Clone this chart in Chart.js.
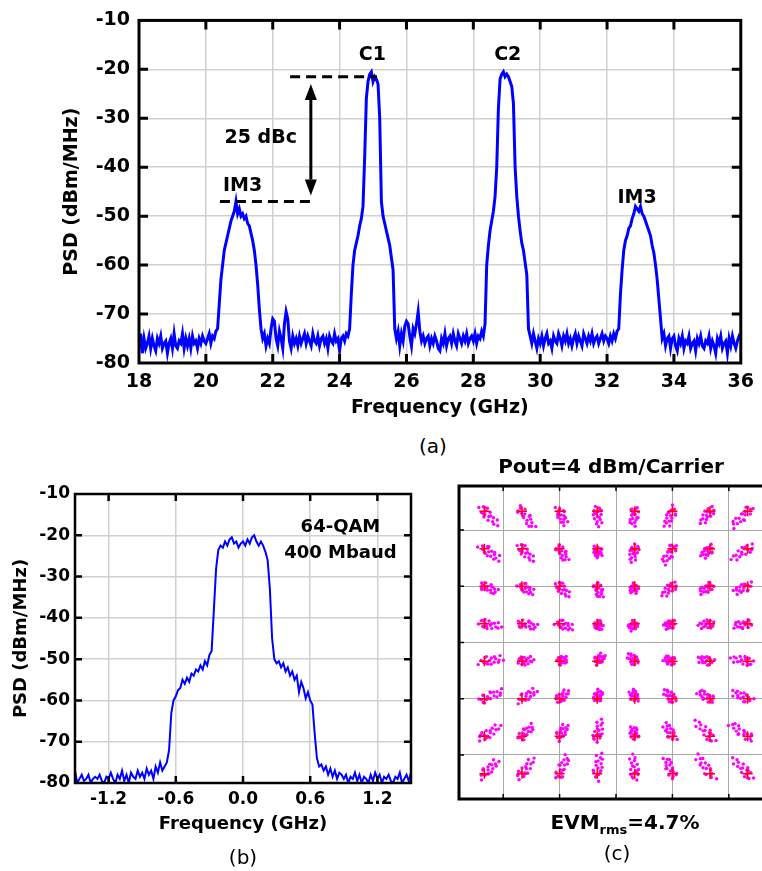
<!DOCTYPE html>
<html>
<head>
<meta charset="utf-8">
<script src="https://cdn.jsdelivr.net/npm/chart.js@4.4.1/dist/chart.umd.min.js"></script>
<style>
  html, body { margin: 0; padding: 0; background: #fff; overflow: hidden; }
  body { width: 762px; height: 871px; position: relative; font-family: 'DejaVu Sans', sans-serif; color: #000; }
  canvas { position: absolute; }
  .cap { position: absolute; font-size: 20px; transform: translate(-50%, -50%); white-space: nowrap; }
  .bold { font-weight: bold; }
  .bold sub { font-size: 13px; }
</style>
</head>
<body>
<canvas id="psdWide" width="762" height="430" style="left:0;top:0"></canvas>
<canvas id="psdChannel" width="440" height="401" style="left:0;top:470px"></canvas>
<canvas id="constellation" width="340" height="401" style="left:440px;top:470px"></canvas>
<div class="cap" style="left:433px;top:446px">(a)</div>
<div class="cap" style="left:243px;top:857px">(b)</div>
<div class="cap" style="left:617px;top:853px">(c)</div>
<div class="cap bold" style="left:611px;top:466px">Pout=4 dBm/Carrier</div>
<div class="cap bold" style="left:625px;top:823px">EVM<sub>rms</sub>=4.7%</div>
<script>
// two-tone PSD, 18-36 GHz, one value every 0.05 GHz
const wideFreqStart = 18;
const wideFreqStep = 0.05;
const widePsd = [
  -77,-74,-78,-75,-77,-76,-74.5,-77,-75,-76.5,-77.5,-75,-76,-74.5,-77,-76,-75.5,-78,-76,-75,
  -77,-74,-76.5,-77,-75.5,-76,-74,-77,-75,-76.5,-75,-77,-74.5,-76,-75.5,-77,-75,-76,-74.5,-75.5,
  -76,-75,-74,-76,-74.5,-75,-73.5,-73,-68,-63,-60,-57,-55.5,-54,-52.5,-51,-50,-49,-47,-49.5,
  -48.5,-50,-49.5,-50.5,-50,-51.5,-52,-53.5,-55,-57,-60,-64,-69,-73,-75,-74,-76.5,-75,-76,-73,
  -71,-71.5,-75,-76.5,-73.5,-75,-77,-72,-69.5,-71,-75.5,-77,-74.5,-76,-75,-76.5,-74.5,-76,-75,-74,
  -76,-74.5,-75.5,-76.5,-74,-75.5,-76,-74.5,-76.5,-75,-74.5,-76,-75,-77,-74.5,-75.5,-76,-74,-75.5,-75,
  -77.5,-75,-74.5,-75.5,-74,-74.5,-73,-66,-60,-57,-55.5,-54,-52,-50.5,-48,-38,-26,-22.5,-21,-20.5,
  -22.5,-21.5,-22,-23,-30,-47,-50,-51.5,-53,-54.5,-56,-58.5,-61,-73,-75,-73.5,-76.5,-74,-75.5,-72.5,
  -71.5,-72,-74.5,-76.5,-73,-74,-72,-69.5,-73.5,-75.5,-74.5,-76,-75,-74.5,-76.5,-75,-76,-74.5,-75.5,-77,
  -77.5,-75,-76,-74,-76.5,-75,-74.5,-76,-74,-75.5,-76.5,-74,-75,-76,-74.5,-75.5,-74,-76,-75,-74.5,
  -75.5,-74,-76,-74.5,-75,-73.5,-74.5,-72,-60,-56,-53,-51,-49,-46,-40,-28,-22,-21,-20.5,-21.5,
  -21,-21.5,-22.5,-23.5,-27,-40,-46,-50,-53,-55.5,-57,-59.5,-62,-73,-74.5,-76,-74,-75.5,-77,-75,
  -76,-74.5,-76.5,-75,-74,-76,-75.5,-77,-74.5,-75.5,-76,-74,-75,-76.5,-74.5,-75.5,-74,-76,-75,-76.5,
  -75,-74,-76,-74.5,-75.5,-76.5,-74,-75,-76,-74.5,-75.5,-74,-76,-75,-74.5,-76,-75,-74,-75.5,-74.5,
  -75,-76,-74.5,-75.5,-74,-75,-73.5,-73,-66,-61,-57,-55,-54,-52.5,-52,-50.5,-49.5,-48,-48.5,-49,
  -48,-49.5,-50,-51,-52,-53,-54,-56,-57.5,-60,-63,-67,-71,-75,-74,-76.5,-75,-74.5,-77,-75,
  -74.5,-76.5,-77.5,-75,-76,-74.5,-77,-75.5,-76,-74.5,-77,-76,-75.5,-77.5,-75,-76,-74.5,-76.5,-77,-75.5,
  -76,-74.5,-77,-75.5,-76.5,-78,-75,-76,-74.5,-77,-76,-75.5,-78,-75,-76.5,-74.5,-76,-77,-75.5,-74.5,
  -75
];
const wideTicksX = [18, 20, 22, 24, 26, 28, 30, 32, 34, 36];

// single 64-QAM channel, -1.5..1.5 GHz, one value every 0.02 GHz
const chanFreqStart = -1.5;
const chanFreqStep = 0.02;
const chanPsd = [
  -77,-80,-79,-78,-79.5,-79,-78,-80,-79,-78.5,
  -79,-78,-79.5,-80,-78.5,-79,-77.5,-79,-80,-78,
  -79,-77,-79.5,-78,-80,-77.5,-78.5,-79,-77,-78.5,
  -77.5,-79,-76.5,-78,-77,-79,-76,-77.5,-75,-77,
  -76,-75,-72,-63,-60,-59,-57.5,-57,-55,-56,
  -54.5,-55.5,-53.5,-54,-52.5,-53,-51.5,-52.5,-50.5,-51.5,
  -49,-48,-38,-28,-23.5,-22.5,-23,-21.5,-22.5,-21,
  -20.5,-22,-21.5,-23,-22,-21.5,-22.5,-21,-22,-20.5,
  -20,-21.5,-22.5,-21.5,-22.5,-24,-26,-33,-45,-50,
  -51,-50.5,-52,-51,-53,-52,-54,-53,-55,-54,
  -58,-55.5,-57,-59.5,-58,-60,-61,-68,-74,-76,
  -75.5,-77,-76,-78,-76.5,-78.5,-77,-79,-77.5,-78,
  -79,-78,-80,-78.5,-79,-77.5,-79.5,-78,-80,-78.5,
  -79,-80,-78,-79.5,-77.5,-79,-78,-80,-78.5,-79,
  -78,-79.5,-80,-78.5,-79,-77.5,-80,-79,-78,-79.5,
  -77.5
];
const chanTicksX = [-1.2, -0.6, 0, 0.6, 1.2];
const chanTickLabels = ['-1.2', '-0.6', '0.0', '0.6', '1.2'];
const psdTicksY = [-80, -70, -60, -50, -40, -30, -20, -10];

// 64-QAM constellation
const qamLevels = [-7, -5, -3, -1, 1, 3, 5, 7];
const qamGrid = [-6, -3, 0, 3, 6];
// length of each received cloud (symbol units), rows from Q=+7 down to Q=-7
const cloudLength = [
  [1.4, 1.45, 1.1, 1.1, 1.05, 1.25, 1.1, 1.55],
  [1.4, 1.2, 1.0, 0.65, 1.0, 1.25, 0.85, 1.4],
  [1.0, 1.0, 1.0, 0.85, 0.55, 1.0, 0.85, 1.1],
  [1.25, 1.1, 1.05, 0.5, 0.55, 0.65, 0.85, 1.0],
  [1.4, 0.85, 0.55, 0.7, 0.7, 0.65, 0.9, 1.25],
  [1.4, 1.25, 0.85, 0.65, 0.7, 0.85, 1.0, 1.25],
  [1.4, 1.1, 1.0, 1.25, 0.7, 1.1, 1.55, 1.55],
  [1.4, 1.4, 1.4, 1.55, 1.4, 1.25, 1.7, 1.55]
];
const cloudShape = ['ABCABCAB', 'CABCABCA', 'BCABCABC', 'ABCABCAB', 'CABCABCA', 'BCABCABC', 'ABCABCAB', 'CABCABCA'];
// received samples of a cloud: radial part (fraction of length) and tangential part (units)
const shapeRadial = {
  A: [0.25, 0.15, 0.05, -0.02, -0.1, -0.18, -0.26, -0.34, -0.42, -0.5, -0.58, -0.75, -0.14, 0.0, -0.3, -0.05, -0.6, 0.1],
  B: [0.2, 0.1, 0.0, -0.06, -0.14, -0.22, -0.3, -0.38, -0.46, -0.55, -0.65, -0.75, 0.06, -0.3, -0.18, -0.42, 0.12, -0.6],
  C: [0.25, 0.12, 0.02, -0.05, -0.12, -0.2, -0.28, -0.36, -0.44, -0.52, -0.62, -0.72, -0.1, -0.24, -0.4, -0.08, -0.56, 0.05]
};
const shapeTangent = {
  A: [0.06, -0.13, 0.16, -0.05, 0.1, -0.18, 0.03, 0.2, -0.1, 0.08, -0.16, 0.04, 0.23, -0.23, -0.06, 0.13, 0.13, -0.16],
  B: [-0.1, 0.16, -0.2, 0.08, -0.04, 0.13, -0.16, 0.06, 0.18, -0.08, 0.05, -0.13, 0.21, -0.22, 0.1, -0.13, -0.03, 0.16],
  C: [0.13, -0.06, 0.08, -0.2, 0.17, 0.0, -0.12, 0.13, -0.05, 0.16, -0.18, 0.09, -0.23, 0.21, -0.16, 0.14, 0.05, 0.0]
};

const wideData = widePsd.map((v, i) => ({ x: wideFreqStart + i * wideFreqStep, y: v }));
const chanData = chanPsd.map((v, i) => ({ x: chanFreqStart + i * chanFreqStep, y: v }));

const idealPts = [];
const rxPts = [];
qamLevels.slice().reverse().forEach((q, row) => {
  qamLevels.forEach((i, col) => {
    idealPts.push({ x: i, y: q });
    const len = Math.hypot(i, q), ux = i / len, uy = q / len;
    const s = cloudShape[row][col], L = cloudLength[row][col];
    shapeRadial[s].forEach((r, k) => {
      const t = shapeTangent[s][k];
      rxPts.push({ x: i + r * L * ux - t * uy, y: q + r * L * uy + t * ux });
    });
  });
});

// box round the plot area with inward tick marks
const framePlugin = {
  id: 'frame',
  afterDraw(chart, args, opts) {
    const { ctx, chartArea: a, scales: { x, y } } = chart;
    ctx.save();
    ctx.strokeStyle = '#000';
    ctx.lineWidth = opts.width;
    ctx.strokeRect(a.left, a.top, a.right - a.left, a.bottom - a.top);
    ctx.lineWidth = opts.tickWidth;
    ctx.beginPath();
    x.ticks.forEach(t => {
      const p = x.getPixelForValue(t.value);
      if (p <= a.left + 1 || p >= a.right - 1) return;
      ctx.moveTo(p, a.bottom); ctx.lineTo(p, a.bottom - opts.len);
      ctx.moveTo(p, a.top); ctx.lineTo(p, a.top + opts.len);
    });
    y.ticks.forEach(t => {
      const p = y.getPixelForValue(t.value);
      if (p <= a.top + 1 || p >= a.bottom - 1) return;
      ctx.moveTo(a.left, p); ctx.lineTo(a.left + opts.len, p);
      ctx.moveTo(a.right, p); ctx.lineTo(a.right - opts.len, p);
    });
    ctx.stroke();
    ctx.restore();
  }
};

// text labels, dashed reference lines and the dBc arrow
const markupPlugin = {
  id: 'markup',
  afterDatasetsDraw(chart, args, opts) {
    const { ctx, scales: { x, y } } = chart;
    ctx.save();
    ctx.fillStyle = '#000';
    ctx.strokeStyle = '#000';
    (opts.dashes || []).forEach(d => {
      ctx.setLineDash([10, 6]);
      ctx.lineWidth = 3;
      ctx.beginPath();
      ctx.moveTo(x.getPixelForValue(d.x1), y.getPixelForValue(d.y));
      ctx.lineTo(x.getPixelForValue(d.x2), y.getPixelForValue(d.y));
      ctx.stroke();
    });
    ctx.setLineDash([]);
    (opts.arrows || []).forEach(d => {
      const px = x.getPixelForValue(d.x), top = y.getPixelForValue(d.y1), bot = y.getPixelForValue(d.y2);
      const head = 16, half = 6;
      ctx.lineWidth = 3;
      ctx.beginPath();
      ctx.moveTo(px, top + head); ctx.lineTo(px, bot - head);
      ctx.stroke();
      ctx.beginPath();
      ctx.moveTo(px, top); ctx.lineTo(px - half, top + head); ctx.lineTo(px + half, top + head); ctx.closePath();
      ctx.moveTo(px, bot); ctx.lineTo(px - half, bot - head); ctx.lineTo(px + half, bot - head); ctx.closePath();
      ctx.fill();
    });
    ctx.font = opts.font;
    ctx.textAlign = 'center';
    ctx.textBaseline = 'middle';
    (opts.texts || []).forEach(t => ctx.fillText(t.text, x.getPixelForValue(t.x), y.getPixelForValue(t.y)));
    ctx.restore();
  }
};

const tickFontA = { family: 'DejaVu Sans', size: 19, weight: 'bold' };
const titleFontA = { family: 'DejaVu Sans', size: 19, weight: 'bold' };
const tickFontB = { family: 'DejaVu Sans', size: 17, weight: 'bold' };
const titleFontB = { family: 'DejaVu Sans', size: 18, weight: 'bold' };

new Chart(document.getElementById('psdWide'), {
  type: 'line',
  data: { datasets: [{ data: wideData, borderColor: '#0000ff', borderWidth: 3, pointRadius: 0, tension: 0 }] },
  options: {
    responsive: false,
    animation: false,
    layout: { padding: { left: 0, top: 15, right: 14, bottom: 0 } },
    plugins: {
      legend: { display: false },
      tooltip: { enabled: false },
      frame: { width: 3, tickWidth: 3, len: 9 },
      markup: {
        font: 'bold 19px "DejaVu Sans"',
        dashes: [{ x1: 22.52, x2: 25.12, y: -21.5 }, { x1: 20.42, x2: 23.26, y: -47 }],
        arrows: [{ x: 23.14, y1: -23, y2: -45.8 }],
        texts: [
          { text: '25 dBc', x: 21.64, y: -34 },
          { text: 'IM3', x: 21.1, y: -43.8 },
          { text: 'C1', x: 24.98, y: -17 },
          { text: 'C2', x: 29.03, y: -17 },
          { text: 'IM3', x: 32.9, y: -46.2 }
        ]
      }
    },
    scales: {
      x: {
        type: 'linear', min: 18, max: 36,
        afterBuildTicks: s => { s.ticks = wideTicksX.map(v => ({ value: v })); },
        afterFit: s => { s.height = 67; },
        grid: { color: '#d0d0d0', lineWidth: 1.5, drawTicks: false },
        border: { display: false },
        ticks: { color: '#000', font: tickFontA, padding: 8, maxRotation: 0 },
        title: { display: true, text: 'Frequency (GHz)', color: '#000', font: titleFontA, padding: { top: 0, bottom: 10.6 } }
      },
      y: {
        min: -80, max: -10,
        afterBuildTicks: s => { s.ticks = psdTicksY.map(v => ({ value: v })); },
        afterFit: s => { s.width = 139; },
        grid: { color: '#d0d0d0', lineWidth: 1.5, drawTicks: false },
        border: { display: false },
        ticks: { color: '#000', font: tickFontA, padding: 9 },
        title: { display: true, text: 'PSD (dBm/MHz)', color: '#000', font: titleFontA, padding: { top: 60.6, bottom: 0 } }
      }
    }
  },
  plugins: [framePlugin, markupPlugin]
});

new Chart(document.getElementById('psdChannel'), {
  type: 'line',
  data: { datasets: [{ data: chanData, borderColor: '#0000ff', borderWidth: 2, pointRadius: 0, tension: 0 }] },
  options: {
    responsive: false,
    animation: false,
    layout: { padding: { left: 0, top: 24, right: 29, bottom: 0 } },
    plugins: {
      legend: { display: false },
      tooltip: { enabled: false },
      frame: { width: 2.5, tickWidth: 2.5, len: 7 },
      markup: {
        font: 'bold 18px "DejaVu Sans"',
        texts: [
          { text: '64-QAM', x: 0.87, y: -18.1 },
          { text: '400 Mbaud', x: 0.87, y: -24.4 }
        ]
      }
    },
    scales: {
      x: {
        type: 'linear', min: -1.5, max: 1.5,
        afterBuildTicks: s => { s.ticks = chanTicksX.map(v => ({ value: v })); },
        afterFit: s => { s.height = 88; },
        grid: { color: '#d0d0d0', lineWidth: 1.5, drawTicks: false },
        border: { display: false },
        ticks: {
          color: '#000', font: tickFontB, padding: 6, maxRotation: 0,
          callback: (v, i) => chanTickLabels[i]
        },
        title: { display: true, text: 'Frequency (GHz)', color: '#000', font: titleFontB, padding: { top: 0, bottom: 36 } }
      },
      y: {
        min: -80, max: -10,
        afterBuildTicks: s => { s.ticks = psdTicksY.map(v => ({ value: v })); },
        afterFit: s => { s.width = 75; },
        grid: { color: '#d0d0d0', lineWidth: 1.5, drawTicks: false },
        border: { display: false },
        ticks: { color: '#000', font: tickFontB, padding: 5 },
        title: { display: true, text: 'PSD (dBm/MHz)', color: '#000', font: titleFontB, padding: { top: 11, bottom: 0 } }
      }
    }
  },
  plugins: [framePlugin, markupPlugin]
});

new Chart(document.getElementById('constellation'), {
  type: 'scatter',
  data: {
    datasets: [
      { data: idealPts, pointStyle: 'cross', pointRadius: 5, borderColor: '#ff0000', borderWidth: 1.5, backgroundColor: '#ff0000' },
      { data: rxPts, pointRadius: 1.7, borderWidth: 0, backgroundColor: '#ff00ff' }
    ]
  },
  options: {
    responsive: false,
    animation: false,
    layout: { padding: { left: 19, top: 16, right: 7, bottom: 72 } },
    plugins: {
      legend: { display: false },
      tooltip: { enabled: false },
      frame: { width: 3, tickWidth: 1.5, len: 5 }
    },
    scales: {
      x: {
        type: 'linear', min: -8.35, max: 8.35,
        afterBuildTicks: s => { s.ticks = qamGrid.map(v => ({ value: v })); },
        grid: { color: '#a8a8a8', lineWidth: 1, drawTicks: false },
        border: { display: false },
        ticks: { display: false }
      },
      y: {
        min: -8.35, max: 8.35,
        afterBuildTicks: s => { s.ticks = qamGrid.map(v => ({ value: v })); },
        grid: { color: '#a8a8a8', lineWidth: 1, drawTicks: false },
        border: { display: false },
        ticks: { display: false }
      }
    }
  },
  plugins: [framePlugin]
});
</script>
</body>
</html>
